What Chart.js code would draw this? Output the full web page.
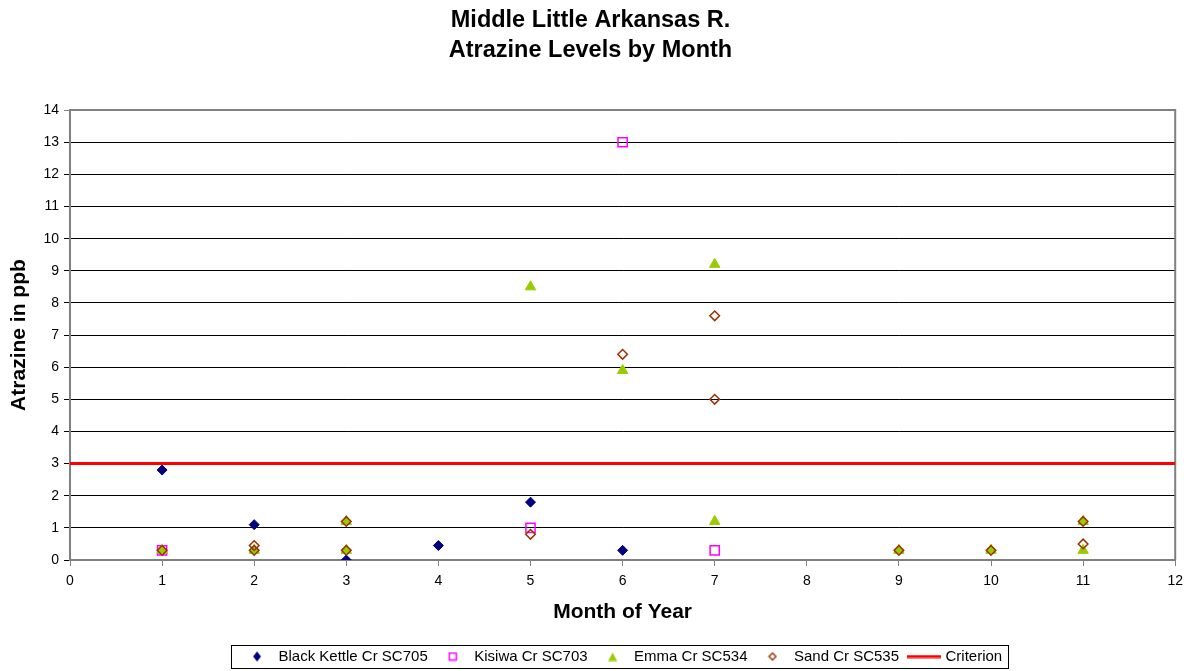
<!DOCTYPE html>
<html>
<head>
<meta charset="utf-8">
<title>Middle Little Arkansas R. - Atrazine Levels by Month</title>
<script src="https://cdn.jsdelivr.net/npm/chart.js@4.4.1/dist/chart.umd.min.js"></script>
<style>
  html, body { margin: 0; padding: 0; background: #fff; }
  #wrap { width: 1190px; height: 671px; }
</style>
</head>
<body>
<div id="wrap"><canvas id="chart"></canvas></div>
<script>
'use strict';

// values
var chartTitle = ['Middle Little Arkansas R.', 'Atrazine Levels by Month'];
var xTitle = 'Month of Year';
var yTitle = 'Atrazine in ppb';

var blackKettleMonth = [1, 2, 3, 4, 5, 6];
var blackKettleValue = [2.8, 1.1, 0, 0.45, 1.8, 0.3];

var kisiwaMonth = [1, 5, 6, 7];
var kisiwaValue = [0.3, 1.0, 13, 0.3];

var emmaMonth = [1, 2, 3, 3, 5, 6, 7, 7, 9, 10, 11, 11];
var emmaValue = [0.3, 0.3, 1.2, 0.3, 8.5, 5.9, 9.2, 1.2, 0.3, 0.3, 1.2, 0.3];

var sandMonth = [1, 2, 2, 3, 3, 5, 6, 7, 7, 9, 10, 11, 11];
var sandValue = [0.3, 0.45, 0.3, 1.2, 0.3, 0.8, 6.4, 7.6, 5.0, 0.3, 0.3, 1.2, 0.5];

var criterionMonth = [0, 12];
var criterionValue = [3, 3];

var FONT = 'Arial, "Liberation Sans", sans-serif';

var toPoints = function (xs, ys) {
    return xs.map(function (x, i) { return {x: x, y: ys[i]}; });
};

// little pictures for the legend so every marker keeps its own shape
var legendIcon = function (w, h, paint) {
    var c = document.createElement('canvas');
    c.width = w;
    c.height = h;
    paint(c.getContext('2d'), w, h);
    return c;
};

var iconBlack = legendIcon(10, 12, function (g, w, h) {
    g.fillStyle = '#000080';
    g.beginPath();
    g.moveTo(w / 2, 1); g.lineTo(w - 1, h / 2); g.lineTo(w / 2, h - 1); g.lineTo(1, h / 2);
    g.closePath();
    g.fill();
});
var iconKisiwa = legendIcon(10, 10, function (g) {
    g.strokeStyle = '#ff00ff';
    g.lineWidth = 1.5;
    g.strokeRect(1.5, 1.5, 7, 7);
});
var iconEmma = legendIcon(10, 10, function (g) {
    g.fillStyle = '#99cc00';
    g.beginPath();
    g.moveTo(5, 1); g.lineTo(9.5, 9.5); g.lineTo(0.5, 9.5);
    g.closePath();
    g.fill();
});
var iconSand = legendIcon(10, 10, function (g) {
    g.strokeStyle = '#993300';
    g.lineWidth = 1.4;
    g.beginPath();
    g.moveTo(5, 1.5); g.lineTo(8.5, 5); g.lineTo(5, 8.5); g.lineTo(1.5, 5);
    g.closePath();
    g.stroke();
});
var iconCriterion = legendIcon(34, 4, function (g, w) {
    g.fillStyle = '#ff0000';
    g.fillRect(0, 0.5, w, 3);
});
var icons = [iconBlack, iconKisiwa, iconEmma, iconSand, iconCriterion];

// grey frame on top/right of the plot and a box round the legend
var framePlugin = {
    id: 'frame',
    beforeDatasetsDraw: function (chart) {
        var a = chart.chartArea;
        var ctx = chart.ctx;
        ctx.save();
        ctx.strokeStyle = '#808080';
        ctx.lineWidth = 2;
        ctx.beginPath();
        ctx.moveTo(a.left, a.top);
        ctx.lineTo(a.right, a.top);
        ctx.lineTo(a.right, a.bottom);
        ctx.stroke();
        ctx.restore();
    },
    afterDraw: function (chart) {
        var boxes = chart.legend.legendHitBoxes;
        if (!boxes || !boxes.length) return;
        var left = boxes[0].left, right = 0, top = boxes[0].top, bottom = 0;
        boxes.forEach(function (b) {
            left = Math.min(left, b.left);
            right = Math.max(right, b.left + b.width);
            top = Math.min(top, b.top);
            bottom = Math.max(bottom, b.top + b.height);
        });
        var mid = (top + bottom) / 2;
        var ctx = chart.ctx;
        ctx.save();
        ctx.strokeStyle = '#000';
        ctx.lineWidth = 1;
        ctx.strokeRect(Math.round(left - 12) + 0.5, Math.round(mid - 12) + 0.5,
            Math.round(right - left + 18), 23);
        ctx.restore();
    }
};

var ctx = document.getElementById('chart').getContext('2d');
var chart = new Chart(ctx, {
    type: 'scatter',
    data: {
        datasets: [
            {
                label: 'Black Kettle Cr SC705',
                data: toPoints(blackKettleMonth, blackKettleValue),
                pointStyle: 'rectRot',
                pointRadius: 5,
                pointHoverRadius: 5,
                backgroundColor: '#000080',
                borderColor: '#000080',
                borderWidth: 1,
                order: 4
            },
            {
                label: 'Kisiwa Cr SC703',
                data: toPoints(kisiwaMonth, kisiwaValue),
                pointStyle: 'rect',
                pointRadius: 6.5,
                pointHoverRadius: 6.5,
                backgroundColor: 'rgba(255,255,255,0)',
                borderColor: '#ff00ff',
                borderWidth: 1.5,
                order: 3
            },
            {
                label: 'Emma Cr SC534',
                data: toPoints(emmaMonth, emmaValue),
                pointStyle: 'triangle',
                pointRadius: 6,
                pointHoverRadius: 6,
                backgroundColor: '#99cc00',
                borderColor: '#99cc00',
                borderWidth: 1,
                order: 2
            },
            {
                label: 'Sand Cr SC535',
                data: toPoints(sandMonth, sandValue),
                pointStyle: 'rectRot',
                pointRadius: 4.8,
                pointHoverRadius: 4.8,
                backgroundColor: 'rgba(255,255,255,0)',
                borderColor: '#993300',
                borderWidth: 1.5,
                order: 1
            },
            {
                label: 'Criterion',
                type: 'line',
                data: toPoints(criterionMonth, criterionValue),
                showLine: true,
                pointRadius: 0,
                borderColor: '#ff0000',
                backgroundColor: '#ff0000',
                borderWidth: 3,
                fill: false,
                order: 0
            }
        ]
    },
    options: {
        responsive: true,
        maintainAspectRatio: false,
        animation: false,
        layout: { padding: { left: 0, right: 9, top: 0, bottom: -3 } },
        plugins: {
            tooltip: { enabled: false },
            title: {
                display: true,
                text: chartTitle,
                color: '#000',
                font: { family: FONT, size: 23.5, weight: 'bold', lineHeight: 1.3 },
                padding: { top: 5, bottom: 44 }
            },
            legend: {
                display: true,
                position: 'bottom',
                fullSize: false,
                labels: {
                    color: '#000',
                    font: { family: FONT, size: 15 },
                    usePointStyle: true,
                    pointStyleWidth: 28,
                    boxHeight: 10,
                    padding: 11,
                    sort: function (a, b) { return a.datasetIndex - b.datasetIndex; },
                    generateLabels: function (chart) {
                        return chart.data.datasets.map(function (ds, i) {
                            return {
                                text: ds.label,
                                datasetIndex: i,
                                pointStyle: icons[i],
                                fillStyle: ds.backgroundColor,
                                strokeStyle: ds.borderColor,
                                lineWidth: 0,
                                fontColor: '#000',
                                hidden: false
                            };
                        });
                    }
                }
            }
        },
        scales: {
            x: {
                type: 'linear',
                min: 0,
                max: 12,
                afterFit: function (scale) { scale.height = 78; },
                ticks: {
                    stepSize: 1,
                    color: '#000',
                    font: { family: FONT, size: 14 },
                    padding: 7
                },
                grid: {
                    drawOnChartArea: false,
                    drawTicks: true,
                    tickLength: 6,
                    color: '#808080',
                    lineWidth: 1
                },
                border: { color: '#808080', width: 2 },
                title: {
                    display: true,
                    text: xTitle,
                    color: '#000',
                    font: { family: FONT, size: 21, weight: 'bold' },
                    padding: { top: 6, bottom: 13 }
                }
            },
            y: {
                min: 0,
                max: 14,
                afterFit: function (scale) { scale.width = 70; },
                ticks: {
                    stepSize: 1,
                    color: '#000',
                    font: { family: FONT, size: 14 },
                    padding: 5
                },
                grid: {
                    drawTicks: true,
                    tickLength: 6,
                    color: function (c) {
                        if (c.tick && c.tick.value === 14) return '#808080';
                        return '#000000';
                    },
                    lineWidth: 1
                },
                border: { color: '#808080', width: 2 },
                title: {
                    display: true,
                    text: yTitle,
                    color: '#000',
                    font: { family: FONT, size: 21, weight: 'bold' },
                    padding: { top: 7, bottom: 4 }
                }
            }
        }
    },
    plugins: [framePlugin]
});
</script>
</body>
</html>
